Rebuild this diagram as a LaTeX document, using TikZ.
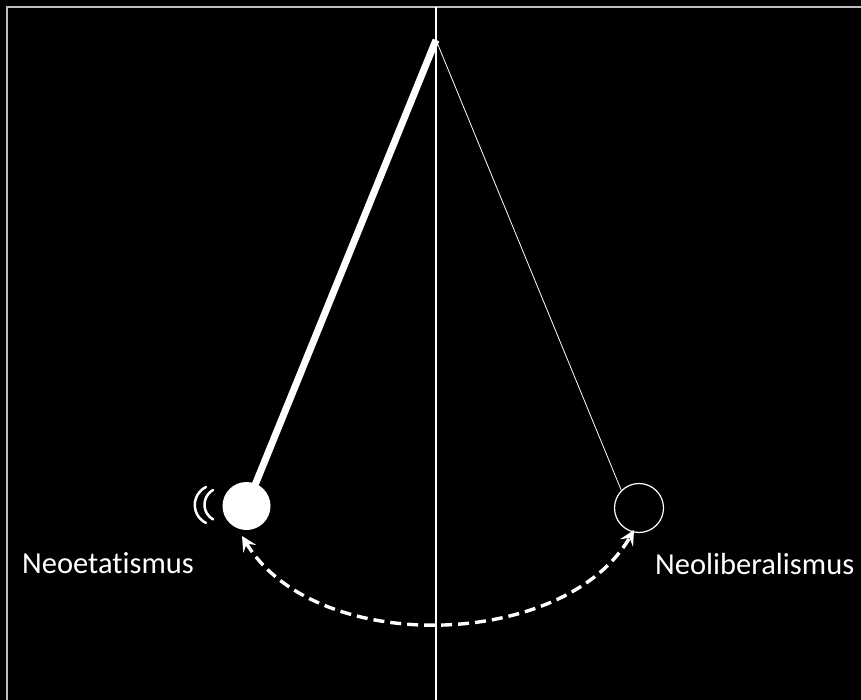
\documentclass[tikz,border=0pt]{standalone}
\usepackage{fontspec}
\setmainfont[Ligatures={NoCommon}]{Carlito}
\usetikzlibrary{arrows.meta}
\begin{document}
\begin{tikzpicture}[x=1pt,y=-1pt,
  frame/.style={draw=white!75!black,line width=2pt},
  label/.style={text=white,font=\fontsize{30.5}{36}\selectfont,inner sep=0pt,anchor=base west},
  swing/.style={draw=white,line width=3.4pt,dash pattern=on 11pt off 6pt,
    {Stealth[length=15pt,width=15pt,inset=6pt]}-{Stealth[length=15pt,width=15pt,inset=6pt]}}]
\fill[black] (0,0) rectangle (861,700);
\useasboundingbox (0,0) rectangle (861,700);
\draw[frame] (7,700) -- (7,7) -- (861,7);
\coordinate (top) at (436,7);
\coordinate (bottom) at (436,700);
\draw[white,line width=2pt] (top) -- (bottom);
\coordinate (pivot) at (436,40);
\node[circle,fill=white,minimum size=48pt,inner sep=0pt] (bob) at (246.5,506) {};
\node[circle,draw=white,line width=1.2pt,minimum size=49pt,inner sep=0pt] (ghost) at (639,508) {};
\draw[white,line width=7pt] (pivot) -- (bob.center);
\draw[white,line width=0.8pt] (pivot) -- (ghost.north west);
\coordinate (sa) at (242,536);
\coordinate (sb) at (634,530);
\draw[swing] (sa) .. controls (315,657) and (565,650) .. (sb);
\draw[white,line width=2.5pt,line cap=round] (206,487) arc[start angle=-116,end angle=-244,radius=20];
\draw[white,line width=2.5pt,line cap=round] (213,490) arc[start angle=-120,end angle=-240,radius=17];
\node[label] (neo) at (22,573) {Neoetatismus};
\node[label] (lib) at (655,574) {Neoliberalismus};
\end{tikzpicture}
\end{document}
